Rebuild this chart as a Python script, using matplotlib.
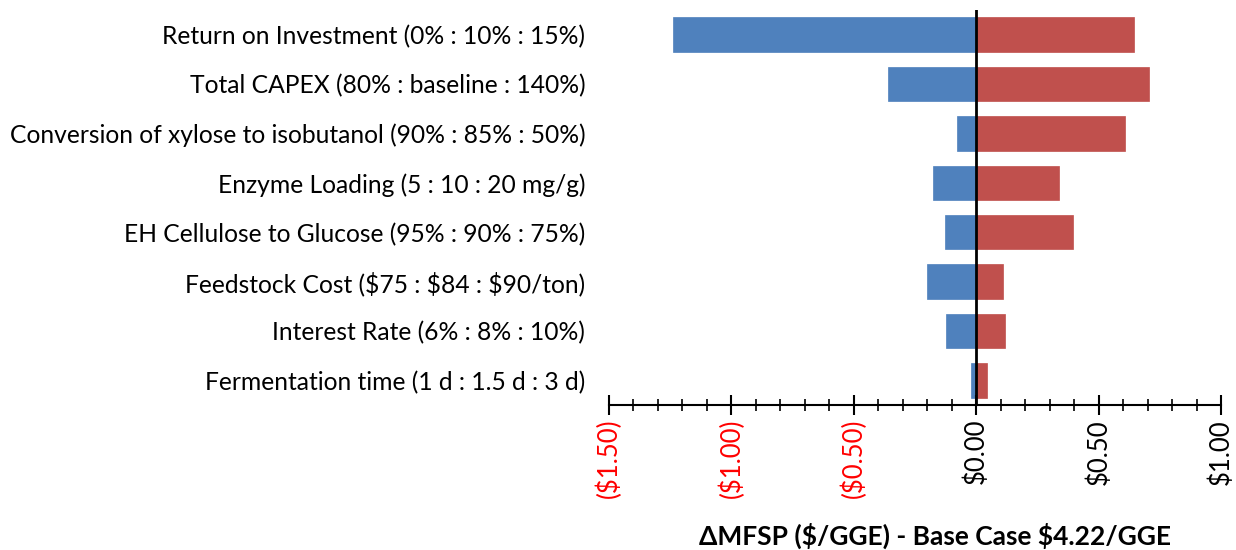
import matplotlib
matplotlib.use("Agg")
import matplotlib.pyplot as plt
from matplotlib.ticker import MultipleLocator, FuncFormatter

# sensitivity cases, top to bottom
params = [
    "Return on Investment (0% : 10% : 15%)",
    "Total CAPEX (80% : baseline : 140%)",
    "Conversion of xylose to isobutanol (90% : 85% : 50%)",
    "Enzyme Loading (5 : 10 : 20 mg/g)",
    "EH Cellulose to Glucose (95% : 90% : 75%)",
    "Feedstock Cost ($75 : $84 : $90/ton)",
    "Interest Rate (6% : 8% : 10%)",
    "Fermentation time (1 d : 1.5 d : 3 d)",
]
low_delta = [-1.24, -0.36, -0.08, -0.175, -0.127, -0.2, -0.123, -0.022]
high_delta = [0.643, 0.705, 0.607, 0.337, 0.395, 0.111, 0.116, 0.042]

plt.rcParams["font.family"] = ["Lato", "DejaVu Sans"]
plt.rcParams["text.parse_math"] = False

fig = plt.figure(figsize=(12.36, 5.5), dpi=100)
ax = fig.add_axes([0.4927, 0.2636, 0.4952, 0.7182])

y = list(range(len(params)))
ax.barh(y, low_delta, height=0.7, color="#4F81BD", edgecolor="#4F81BD", linewidth=0.5)
ax.barh(y, high_delta, height=0.7, color="#C0504D", edgecolor="#C0504D", linewidth=0.5)
ax.axvline(0, color="black", lw=2, zorder=5)

ax.set_xlim(-1.5, 1.0)
ax.set_ylim(len(params) - 0.5, -0.5)

for s in ["left", "right", "top"]:
    ax.spines[s].set_visible(False)
ax.spines["bottom"].set_linewidth(1.5)

ax.set_yticks(y)
ax.set_yticklabels(params, fontsize=17.7)
ax.tick_params(axis="y", length=0, pad=17)

ax.xaxis.set_major_locator(MultipleLocator(0.5))
ax.xaxis.set_minor_locator(MultipleLocator(0.1))


def money(v, pos):
    if v < -1e-9:
        return "(${:.2f})".format(-v)
    return "${:.2f}".format(abs(v))


ax.xaxis.set_major_formatter(FuncFormatter(money))
ax.tick_params(axis="x", which="major", direction="inout", length=14, width=1.5, pad=3)
ax.tick_params(axis="x", which="minor", direction="inout", length=9, width=1.2)
for lbl in ax.get_xticklabels():
    lbl.set_rotation(90)
    lbl.set_fontsize(18.5)
    if lbl.get_text().startswith("("):
        lbl.set_color("red")

fig.text(935 / 1236, 1 - 536 / 550, "ΔMFSP ($/GGE) - Base Case $4.22/GGE",
         ha="center", va="center", fontsize=19, fontweight="bold")

fig.savefig("out.png", dpi=100)
